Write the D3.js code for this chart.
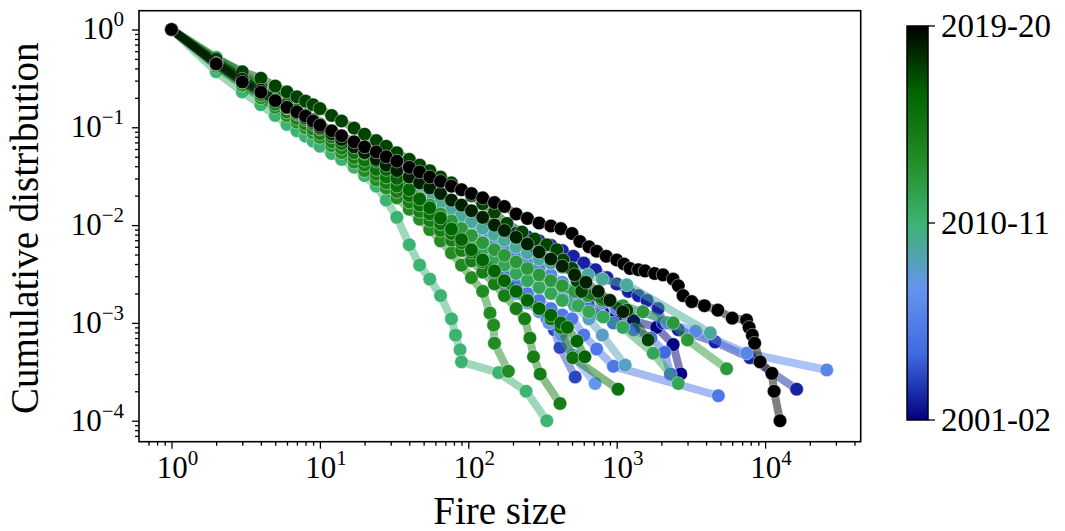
<!DOCTYPE html>
<html lang="en">
<head>
<meta charset="UTF-8">
<title>Fire size distribution</title>
<script src="https://d3js.org/d3.v7.min.js"></script>
<style>
  body { margin: 0; background: #fff; }
  text { font-family: "Liberation Serif", "DejaVu Serif", serif; fill: #000; }
</style>
</head>
<body>
<svg width="1065" height="531"></svg>
<script>

    // seasons (colour order) and the CCDF of fire sizes for each one
    var seasons = ["2001-02", "2002-03", "2003-04", "2004-05", "2005-06", "2006-07", "2007-08",
        "2008-09", "2009-10", "2010-11", "2011-12", "2012-13", "2013-14", "2014-15", "2015-16",
        "2016-17", "2017-18", "2018-19", "2019-20"];

    // fire sizes where the dense part of each curve is read
    var sizeGrid = [1, 2, 3, 4, 5, 6, 7, 8, 9, 10, 12, 14, 17, 20, 24, 28, 33, 40, 47, 55, 65, 77, 90, 105, 125, 150, 175, 210, 250];

    // cumulative fraction at sizeGrid, one array per season
    var body0102 = [1, .46, .31, .235, .19, .16, .14, .124, .111, .1, .085, .073, .06, .051, .042, .036, .03, .024, .02, .0165, .0137, .0115, .0098, .0085, .0072, .006, .0052, .0044, .0037];
    var body0203 = [1, .45, .3, .228, .183, .153, .133, .118, .106, .096, .082, .071, .059, .051, .043, .037, .032, .027, .023, .02, .0175, .0155, .014, .0125, .011, .0098, .009, .0082, .0076];
    var body0304 = [1, .43, .28, .21, .168, .14, .12, .105, .093, .083, .069, .059, .048, .04, .032, .027, .022, .017, .014, .0115, .0092, .0075, .0062, .0051, .0042, .0034, .0028, .0023, .0018];
    var body0405 = [1, .45, .3, .225, .18, .15, .13, .114, .102, .092, .078, .067, .055, .047, .039, .033, .028, .023, .019, .016, .0132, .011, .0092, .0078, .0065, .0054, .0046, .0038, .0031];
    var body0506 = [1, .44, .29, .215, .172, .143, .123, .108, .096, .086, .072, .062, .051, .043, .035, .029, .024, .019, .0155, .0127, .0102, .0083, .0068, .0056, .0046, .0037, .003, .0024, .002];
    var body0607 = [1, .45, .3, .225, .18, .15, .13, .115, .103, .093, .079, .068, .056, .048, .04, .034, .029, .024, .02, .017, .0145, .0125, .011, .0097, .0084, .0072, .0062, .0052, .0044];
    var body0708 = [1, .43, .28, .21, .167, .139, .12, .105, .094, .084, .07, .06, .049, .041, .034, .028, .023, .018, .0148, .012, .0097, .0078, .0063, .0051, .004, .0031, .0025, .002, .0016];
    var body0809 = [1, .45, .3, .225, .18, .15, .13, .115, .103, .093, .078, .067, .055, .047, .039, .033, .028, .023, .019, .016, .0133, .011, .0093, .0079, .0066, .0054, .0046, .0038, .0031];
    var body0910 = [1, .47, .32, .245, .2, .168, .147, .13, .117, .106, .09, .078, .065, .056, .047, .04, .034, .028, .024, .02, .017, .0145, .0125, .0108, .0093, .008, .007, .006, .0052];
    var body1011 = [1, .37, .23, .17, .132, .107, .092, .081, .072, .064, .054, .047, .039, .032, .025, .018, .012, .0063, .0039, .0028, .0019, .0011];
    var body1112 = [1, .52, .36, .27, .215, .178, .152, .133, .118, .106, .088, .075, .061, .051, .042, .035, .029, .023, .019, .0155, .0125, .01, .0082, .0068, .0056, .0046, .0039, .0032, .0027];
    var body1213 = [1, .47, .31, .235, .188, .157, .135, .119, .106, .095, .08, .069, .057, .048, .04, .034, .028, .023, .019, .016, .013, .011, .0092, .0078, .0066, .0056, .0049, .0042, .0036];
    var body1314 = [1, .42, .27, .2, .16, .132, .113, .099, .088, .079, .065, .055, .044, .036, .029, .024, .019, .0145, .0115, .009, .0069, .0052, .0039, .0029, .0021];
    var body1415 = [1, .44, .29, .215, .172, .143, .123, .108, .096, .086, .071, .061, .049, .041, .033, .027, .022, .0172, .0138, .0111, .0088, .007, .0055, .0043, .0033, .0025, .0019, .0014];
    var body1516 = [1, .46, .31, .235, .19, .158, .136, .12, .107, .096, .08, .068, .055, .046, .037, .031, .025, .02, .016, .013, .0103, .0082, .0066, .0053, .0042, .0033, .0027, .0021, .0017];
    var body1617 = [1, .48, .33, .255, .208, .175, .152, .134, .12, .108, .091, .078, .064, .054, .045, .037, .03, .023, .0185, .015, .0118, .0091, .0071, .0056, .0044, .0034, .0027, .0021, .0017];
    var body1718 = [1, .5, .37, .317, .264, .23, .205, .185, .17, .155, .132, .116, .098, .085, .073, .064, .055, .047, .041, .036, .031, .027, .023, .02, .0165, .0135];
    var body1819 = [1, .45, .31, .24, .19, .16, .14, .125, .112, .1, .086, .075, .063, .055, .047, .041, .036, .031, .027, .024, .021, .018, .016, .014, .012, .01, .0088, .0075, .0064];
    var body1920 = [1, .444, .29, .228, .187, .16, .144, .13, .116, .105, .092, .082, .071, .063, .056, .05, .045, .039, .035, .031, .028, .025, .023, .021, .019, .017, .0155, .013, .0117];

    // sparse tails [size, fraction]
    var tail0102 = [[300, .0031], [360, .0026], [430, .0022], [520, .0018], [640, .0015], [800, .0013], [1000, .0012], [1300, .00105], [1860, .0009], [2400, .0006], [2700, .0003]];
    var tail0203 = [[300, .0069], [360, .0062], [430, .0055], [510, .0048], [600, .0041], [720, .0035], [860, .0029], [1000, .0025], [1200, .0021], [1400, .0019], [1600, .0017], [1900, .0014], [2050, .001], [2600, .00085], [4600, .00064], [7900, .00044], [16300, .00021]];
    var tail0304 = [[300, .0014], [340, .0011], [380, .00085], [415, .00056], [525, .00028]];
    var tail0405 = [[300, .0025], [360, .0021], [430, .0018], [520, .0016], [640, .0014], [780, .0012], [950, .001], [1300, .00085], [1700, .0007], [2100, .0005], [2300, .0003]];
    var tail0506 = [[300, .0017], [360, .0014], [430, .0012], [500, .0011], [600, .00075], [733, .00054], [950, .00036], [4840, .00018]];
    var tail0607 = [[300, .0037], [360, .0031], [430, .0026], [520, .0022], [640, .0019], [800, .0016], [1000, .0014], [1500, .0013], [2200, .001], [3400, .00082], [7500, .00049], [26000, .00033]];
    var tail0708 = [[300, .0013], [350, .001], [420, .00075], [505, .00047], [715, .00024]];
    var tail0809 = [[300, .0026], [360, .0022], [430, .0018], [520, .0015], [650, .0011], [800, .00075], [1140, .00037]];
    var tail0910 = [[300, .0045], [360, .0041], [430, .0037], [520, .0034], [640, .0031], [800, .0028], [1170, .00245], [4270, .00079]];
    var tail1011 = [[82, .00075], [88, .00053], [90, .0004], [160, .00031], [245, .0002], [338, .0001]];
    var tail1112 = [[300, .0023], [360, .002], [430, .0017], [550, .0015], [650, .0013], [810, .00115], [1100, .0009], [1760, .00049], [2600, .00024]];
    var tail1213 = [[300, .0031], [360, .0027], [430, .0024], [520, .0021], [640, .0019], [800, .0017], [1100, .0015], [1500, .0013], [2400, .001], [3000, .00067], [5500, .00034]];
    var tail1314 = [[140, .00126], [148, .00095], [150, .00062], [186, .00032]];
    var tail1415 = [[240, .0011], [260, .0007], [275, .00045], [305, .0003], [415, .00015]];
    var tail1516 = [[300, .0014], [360, .0011], [420, .0009], [505, .00044], [1020, .00021]];
    var tail1617 = [[300, .0014], [360, .0012], [420, .001], [465, .0009], [540, .00065], [610, .00045]];
    var tail1718 = [[182, .0104], [230, .0085], [280, .0072], [338, .0063], [395, .0056], [435, .0044], [500, .0036], [540, .0027], [580, .0021], [1170, .00135], [1630, .00067]];
    var tail1819 = [[300, .0053], [360, .0045], [430, .0038], [520, .0031], [620, .0026], [750, .0021], [900, .0017], [1100, .0013]];
    var tail1920 = [[300, .0105], [360, .0098], [420, .0092], [500, .0082], [565, .0068], [650, .006], [733, .0054], [850, .0048], [1000, .0044], [1120, .004], [1230, .0036], [1400, .0035], [1550, .0034], [1800, .0032], [2050, .0031], [2400, .0028], [2600, .0024], [2800, .0019], [3200, .00165], [3900, .0015], [4800, .00135], [6000, .00112], [7500, .00107], [7800, .0009], [8200, .00075], [8500, .00062], [9250, .0004], [11100, .000305], [11500, .0002], [12600, .0001]];

    var bodies = [body0102, body0203, body0304, body0405, body0506, body0607, body0708, body0809, body0910, body1011,
        body1112, body1213, body1314, body1415, body1516, body1617, body1718, body1819, body1920];
    var tails = [tail0102, tail0203, tail0304, tail0405, tail0506, tail0607, tail0708, tail0809, tail0910, tail1011,
        tail1112, tail1213, tail1314, tail1415, tail1516, tail1617, tail1718, tail1819, tail1920];

    var cmapColors = ["#000080", "#4169e1", "#6495ed", "#3cb371", "#228b22", "#006400", "#000000"];
    var cbTicks = ["2001-02", "2010-11", "2019-20"];

    var svg = d3.select("svg");
    var pL = 139, pR = 860.7, pT = 10.7, pB = 441.7;

    var x = d3.scaleLog().domain([0.604, 44060]).range([pL, pR]);
    var y = d3.scaleLog().domain([6.1e-5, 1.556]).range([pB, pT]);

    var cmap = d3.scaleLinear()
        .domain(cmapColors.map(function (c, i) { return i / (cmapColors.length - 1); }))
        .range(cmapColors);

    var plot = svg.append("g");
    var line = d3.line()
        .x(function (d) { return x(d[0]); })
        .y(function (d) { return y(d[1]); });

    bodies.forEach(function (b, i) {
        var pts = b.map(function (v, j) { return [sizeGrid[j], v]; }).concat(tails[i]);
        var col = cmap(i / (seasons.length - 1));
        var g = plot.append("g").attr("class", "season");
        g.append("path")
            .datum(pts)
            .attr("d", line)
            .attr("fill", "none")
            .attr("stroke", col)
            .attr("stroke-opacity", 0.5)
            .attr("stroke-width", 8)
            .attr("stroke-linejoin", "round");
        g.selectAll("circle")
            .data(pts)
            .enter().append("circle")
            .attr("cx", function (d) { return x(d[0]); })
            .attr("cy", function (d) { return y(d[1]); })
            .attr("r", 6.8)
            .attr("fill", col)
            .attr("stroke", "#fff")
            .attr("stroke-opacity", 0.55)
            .attr("stroke-width", 0.8);
    });

    // ticks
    var xMajor = [1, 10, 100, 1000, 10000], yMajor = [1e-4, 1e-3, 1e-2, 1e-1, 1];
    function minors(scale) {
        var d = scale.domain(), out = [];
        for (var k = -6; k <= 5; k++) {
            for (var m = 2; m <= 9; m++) {
                var v = m * Math.pow(10, k);
                if (v >= d[0] && v <= d[1]) out.push(v);
            }
        }
        return out;
    }

    function styleAxis(a) {
        a.select(".domain").remove();
        a.selectAll("line").attr("stroke", "#000").attr("stroke-width", 1.3);
        a.selectAll("text").remove();
    }

    svg.append("g").attr("transform", "translate(0," + pB + ")")
        .call(d3.axisBottom(x).tickValues(xMajor).tickSize(7).tickFormat("")).call(styleAxis);
    svg.append("g").attr("transform", "translate(0," + pB + ")")
        .call(d3.axisBottom(x).tickValues(minors(x)).tickSize(4).tickFormat("")).call(styleAxis);
    svg.append("g").attr("transform", "translate(" + pL + ",0)")
        .call(d3.axisLeft(y).tickValues(yMajor).tickSize(7).tickFormat("")).call(styleAxis);
    svg.append("g").attr("transform", "translate(" + pL + ",0)")
        .call(d3.axisLeft(y).tickValues(minors(y)).tickSize(4).tickFormat("")).call(styleAxis);

    // frame
    svg.append("rect")
        .attr("x", pL).attr("y", pT)
        .attr("width", pR - pL).attr("height", pB - pT)
        .attr("fill", "none").attr("stroke", "#000").attr("stroke-width", 1.6);

    // tick labels 10^k
    function powLabel(sel, k) {
        sel.append("tspan").text("10");
        sel.append("tspan").attr("font-size", "21px").attr("dy", -13)
            .text(k < 0 ? "\u2212" + (-k) : String(k));
    }
    xMajor.forEach(function (v) {
        var t = svg.append("text")
            .attr("x", x(v) + 6).attr("y", 478)
            .attr("text-anchor", "middle")
            .attr("font-size", "31px");
        powLabel(t, Math.round(Math.log10(v)));
    });
    yMajor.forEach(function (v) {
        var t = svg.append("text")
            .attr("x", 124).attr("y", y(v) + 10)
            .attr("text-anchor", "end")
            .attr("font-size", "31px");
        powLabel(t, Math.round(Math.log10(v)));
    });

    // axis titles
    svg.append("text")
        .attr("x", (pL + pR) / 2).attr("y", 524)
        .attr("text-anchor", "middle")
        .attr("font-size", "39px")
        .text("Fire size");
    svg.append("text")
        .attr("transform", "translate(38," + ((pT + pB) / 2 + 2) + ") rotate(-90)")
        .attr("text-anchor", "middle")
        .attr("font-size", "39px")
        .text("Cumulative distribution");

    // colorbar
    var cbX = 907, cbW = 21, cbTop = 26, cbBot = 420;
    var grad = svg.append("defs").append("linearGradient")
        .attr("id", "cb").attr("x1", 0).attr("y1", 1).attr("x2", 0).attr("y2", 0);
    cmapColors.forEach(function (c, i) {
        grad.append("stop").attr("offset", i / (cmapColors.length - 1)).attr("stop-color", c);
    });
    svg.append("rect")
        .attr("x", cbX).attr("y", cbTop).attr("width", cbW).attr("height", cbBot - cbTop)
        .attr("fill", "url(#cb)").attr("stroke", "#000").attr("stroke-width", 1.5);

    var cbScale = d3.scaleLinear().domain([0, cbTicks.length - 1]).range([cbBot, cbTop]);
    cbTicks.forEach(function (lab, i) {
        svg.append("line")
            .attr("x1", cbX + cbW).attr("x2", cbX + cbW + 7)
            .attr("y1", cbScale(i)).attr("y2", cbScale(i))
            .attr("stroke", "#000").attr("stroke-width", 1.3);
        svg.append("text")
            .attr("x", cbX + cbW + 13).attr("y", cbScale(i) + 11)
            .attr("font-size", "33px")
            .text(lab);
    });

</script>
</body>
</html>
